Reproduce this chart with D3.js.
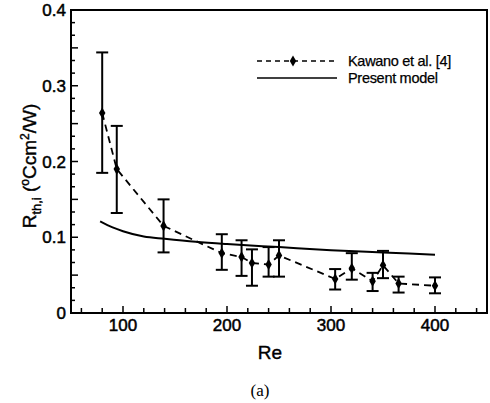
<!DOCTYPE html>
<html>
<head>
    <style type="text/css">
        body { margin: 0; background: #fff; }
        text { font-family: "Liberation Sans", Arial, sans-serif; fill: #000; }
        .tick-label { font-size: 17px; stroke: #000; stroke-width: 0.5px; }
        .axis-title { font-size: 19px; stroke: #000; stroke-width: 0.4px; }
        .legend-text { font-size: 14.5px; stroke: #000; stroke-width: 0.25px; letter-spacing: -0.3px; }
    </style>
    <script src="https://d3js.org/d3.v7.min.js"></script>
</head>
<body>
    <svg id="mySvg" width="490" height="403"></svg>
<script type="text/javascript">
// Kawano et al. [4] measurements (Re, R_th,i, error bar low/high)
const kawanoRe   = [80, 94, 139, 195, 214, 224, 240, 250, 304, 320, 340, 350, 365, 400];
const kawanoR    = [0.264, 0.190, 0.115, 0.079, 0.074, 0.066, 0.064, 0.076, 0.045, 0.059, 0.042, 0.063, 0.039, 0.036];
const kawanoLow  = [0.185, 0.132, 0.080, 0.057, 0.049, 0.036, 0.048, 0.048, 0.031, 0.044, 0.029, 0.046, 0.027, 0.026];
const kawanoHigh = [0.344, 0.247, 0.150, 0.104, 0.096, 0.084, 0.087, 0.096, 0.058, 0.079, 0.053, 0.082, 0.048, 0.047];

// Present model curve
const modelRe = [78, 90, 100, 120, 140, 170, 200, 250, 300, 350, 400];
const modelR  = [0.121, 0.113, 0.108, 0.101, 0.098, 0.094, 0.091, 0.087, 0.083, 0.080, 0.077];

const xTickLabels = [100, 200, 300, 400];
const yTickLabels = [0, 0.1, 0.2, 0.3, 0.4];

const svg = d3.select('#mySvg');
const plotLeft = 71, plotRight = 487, plotTop = 10, plotBottom = 313;

const x = d3.scaleLinear().domain([50, 450]).range([plotLeft, plotRight]);
const y = d3.scaleLinear().domain([0, 0.4]).range([plotBottom, plotTop]);

// frame
svg.append('rect')
    .attr('x', plotLeft).attr('y', plotTop)
    .attr('width', plotRight - plotLeft).attr('height', plotBottom - plotTop)
    .attr('fill', 'none').attr('stroke', '#000').attr('stroke-width', 2);

// x ticks: minor every 20, major at hundreds (inward)
const xMinor = d3.range(60, 450, 20);
svg.append('g').selectAll('line')
    .data(xMinor)
    .enter().append('line')
    .attr('x1', d => x(d)).attr('x2', d => x(d))
    .attr('y1', plotBottom)
    .attr('y2', d => plotBottom - (d % 100 === 0 ? 7 : 5))
    .attr('stroke', '#000').attr('stroke-width', 1.5);

// y ticks: minor every 0.1/6, medium at 0.05, major at 0.1
const yMinor = d3.range(1, 24).map(i => i * 0.1 / 6);
svg.append('g').selectAll('line')
    .data(yMinor)
    .enter().append('line')
    .attr('y1', d => y(d)).attr('y2', d => y(d))
    .attr('x1', plotLeft)
    .attr('x2', (d, i) => plotLeft + ((i + 1) % 3 === 0 ? 7 : 4))
    .attr('stroke', '#000').attr('stroke-width', 1.5);

svg.append('g').selectAll('text')
    .data(xTickLabels)
    .enter().append('text')
    .attr('class', 'tick-label')
    .attr('x', d => x(d)).attr('y', 331)
    .attr('text-anchor', 'middle')
    .text(d => d);

svg.append('g').selectAll('text')
    .data(yTickLabels)
    .enter().append('text')
    .attr('class', 'tick-label')
    .attr('x', 66).attr('y', d => y(d) + 6)
    .attr('text-anchor', 'end')
    .text(d => d === 0 ? '0' : d.toFixed(1));

// axis titles
svg.append('text')
    .attr('class', 'axis-title')
    .attr('x', 270).attr('y', 359)
    .attr('text-anchor', 'middle')
    .text('Re');

const yTitle = svg.append('text')
    .attr('class', 'axis-title')
    .attr('transform', 'translate(36,166) rotate(-90)')
    .attr('text-anchor', 'middle');
yTitle.append('tspan').text('R');
yTitle.append('tspan').attr('dy', 5).style('font-size', '13px').text('th,i');
yTitle.append('tspan').attr('dy', -5).text(' (');
yTitle.append('tspan').attr('dy', -7).style('font-size', '12px').text('o');
yTitle.append('tspan').attr('dy', 7).text('Ccm');
yTitle.append('tspan').attr('dy', -7).style('font-size', '12px').text('2');
yTitle.append('tspan').attr('dy', 7).text('/W)');

svg.append('text')
    .attr('x', 260).attr('y', 396)
    .attr('text-anchor', 'middle')
    .style('font-family', '"Liberation Serif", "Times New Roman", serif')
    .style('font-size', '17px')
    .text('(a)');

// model curve
const line = d3.line().x(d => x(d[0])).y(d => y(d[1])).curve(d3.curveMonotoneX);
svg.append('path')
    .datum(modelRe.map((d, i) => [d, modelR[i]]))
    .attr('d', line)
    .attr('fill', 'none').attr('stroke', '#000').attr('stroke-width', 2);

// Kawano dashed line
const kawano = kawanoRe.map((d, i) => ({re: d, r: kawanoR[i], lo: kawanoLow[i], hi: kawanoHigh[i]}));
svg.append('path')
    .datum(kawano.map(d => [d.re, d.r]))
    .attr('d', d3.line().x(d => x(d[0])).y(d => y(d[1])))
    .attr('fill', 'none').attr('stroke', '#000')
    .attr('stroke-width', 1.8).attr('stroke-dasharray', '7,5');

// error bars
const bars = svg.append('g').selectAll('g')
    .data(kawano)
    .enter().append('g');
bars.append('line')
    .attr('x1', d => x(d.re)).attr('x2', d => x(d.re))
    .attr('y1', d => y(d.lo)).attr('y2', d => y(d.hi))
    .attr('stroke', '#000').attr('stroke-width', 2);
bars.append('line')
    .attr('x1', d => x(d.re) - 6).attr('x2', d => x(d.re) + 6)
    .attr('y1', d => y(d.lo)).attr('y2', d => y(d.lo))
    .attr('stroke', '#000').attr('stroke-width', 2);
bars.append('line')
    .attr('x1', d => x(d.re) - 6).attr('x2', d => x(d.re) + 6)
    .attr('y1', d => y(d.hi)).attr('y2', d => y(d.hi))
    .attr('stroke', '#000').attr('stroke-width', 2);

const diamond = d3.symbol().type(d3.symbolDiamond).size(36);
bars.append('path')
    .attr('d', diamond)
    .attr('transform', d => 'translate(' + x(d.re) + ',' + y(d.r) + ')')
    .attr('fill', '#000');

// legend
svg.append('line')
    .attr('x1', 257).attr('x2', 337).attr('y1', 61).attr('y2', 61)
    .attr('stroke', '#000').attr('stroke-width', 1.6).attr('stroke-dasharray', '5,4');
svg.append('path')
    .attr('d', diamond)
    .attr('transform', 'translate(293,61)')
    .attr('fill', '#000');
svg.append('text')
    .attr('class', 'legend-text')
    .attr('x', 348).attr('y', 66)
    .text('Kawano et al. [4]');

svg.append('line')
    .attr('x1', 257).attr('x2', 337).attr('y1', 78).attr('y2', 78)
    .attr('stroke', '#000').attr('stroke-width', 1.6);
svg.append('text')
    .attr('class', 'legend-text')
    .attr('x', 348).attr('y', 83)
    .text('Present model');
</script>
</body>
</html>
